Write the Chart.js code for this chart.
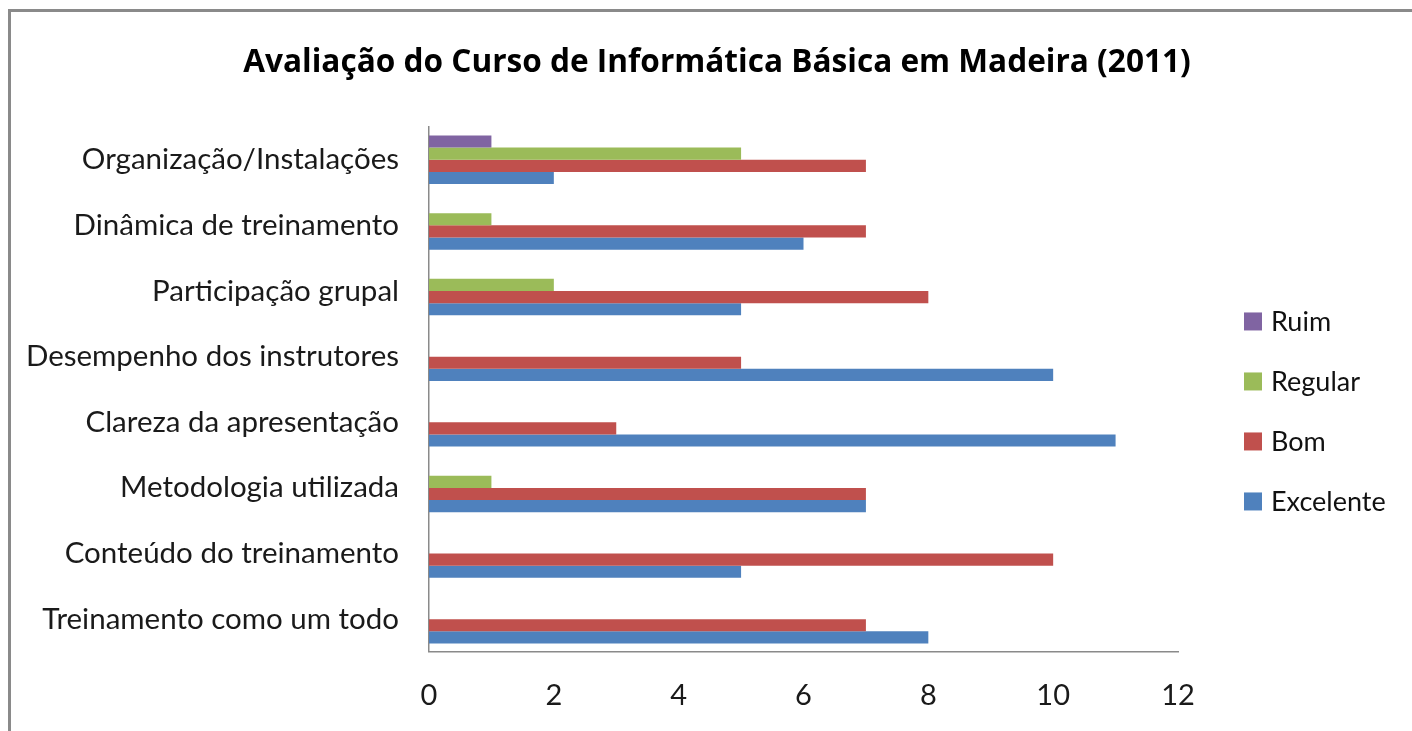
<!DOCTYPE html>
<html>
<head>
<meta charset="utf-8">
<script src="https://cdn.jsdelivr.net/npm/chart.js@4.4.0/dist/chart.umd.min.js"></script>
<style>
html, body { margin: 0; padding: 0; background: #fff; overflow: hidden; }
#wrap { position: relative; width: 1412px; height: 731px; overflow: hidden; }
.edge { position: absolute; background: #8a8a8a; pointer-events: none; }
#edgeTop { left: 8px; top: 9px; width: 1404px; height: 3px; }
#edgeLeft { left: 8px; top: 9px; width: 3px; height: 722px; }
</style>
</head>
<body>
<div id="wrap">
    <canvas id="chart" width="1412" height="731"></canvas>
    <div class="edge" id="edgeTop"></div>
    <div class="edge" id="edgeLeft"></div>
</div>
<script>
const categories = [
    "Organização/Instalações",
    "Dinâmica de treinamento",
    "Participação grupal",
    "Desempenho dos instrutores",
    "Clareza da apresentação",
    "Metodologia utilizada",
    "Conteúdo do treinamento",
    "Treinamento como um todo"
];

const ruim      = [1, 0, 0, 0, 0, 0, 0, 0];
const regular   = [5, 1, 2, 0, 0, 1, 0, 0];
const bom       = [7, 7, 8, 5, 3, 7, 10, 7];
const excelente = [2, 6, 5, 10, 11, 7, 5, 8];

const seriesNames  = ["Ruim", "Regular", "Bom", "Excelente"];
const seriesColors = ["#8064A2", "#9BBB59", "#C0504D", "#4F81BD"];
const xTicks = [0, 2, 4, 6, 8, 10, 12];

const FONT = "Lato";
Chart.defaults.font.family = FONT;

// legend drawn by hand so it sits where the Excel one does
const sideLegend = {
    id: "sideLegend",
    afterDraw(chart){
        const ctx = chart.ctx;
        const area = chart.chartArea;
        const mid = (area.top + area.bottom) / 2 + 22;
        const x = area.right + 66;
        ctx.save();
        ctx.font = "27px " + FONT;
        ctx.textBaseline = "middle";
        ctx.textAlign = "left";
        chart.data.datasets.forEach((ds, i) => {
            const y = mid + (i - 1.5) * 60;
            ctx.fillStyle = ds.backgroundColor;
            ctx.fillRect(x, y - 9, 18, 18);
            ctx.fillStyle = "#111";
            ctx.fillText(ds.label, x + 27, y + 1);
        });
        ctx.restore();
    }
};

const seriesData = [ruim, regular, bom, excelente];

new Chart(document.getElementById("chart"), {
    type: "bar",
    data: {
        labels: categories,
        datasets: seriesNames.map((name, i) => ({
            label: name,
            data: seriesData[i],
            backgroundColor: seriesColors[i],
            borderWidth: 0,
            categoryPercentage: 0.74,
            barPercentage: 1.0
        }))
    },
    options: {
        indexAxis: "y",
        responsive: false,
        animation: false,
        layout: { padding: { left: 22, right: 0, top: 0, bottom: 0 } },
        plugins: {
            legend: { display: false },
            tooltip: { enabled: false },
            title: {
                display: true,
                text: "Avaliação do Curso de Informática Básica em Madeira (2011)",
                color: "#000",
                font: { family: "Open Sans", size: 31.6, weight: "bold" },
                padding: { top: 44, bottom: 45 }
            }
        },
        scales: {
            x: {
                type: "linear",
                min: 0,
                max: 12,
                afterBuildTicks: s => { s.ticks = xTicks.map(v => ({ value: v })); },
                grid: { display: false, drawTicks: false },
                border: { display: true, color: "#8a8a8a", width: 1.5 },
                ticks: { color: "#1a1a1a", font: { size: 29 }, padding: 26 },
                afterFit: s => { s.height = 79; }
            },
            y: {
                type: "category",
                grid: { display: false, drawTicks: false },
                border: { display: true, color: "#8a8a8a", width: 1.5 },
                ticks: { color: "#1a1a1a", font: { size: 29.5 }, padding: 30 },
                afterFit: s => { s.width = 407; }
            },
            spacer: {
                type: "linear",
                position: "right",
                grid: { display: false, drawTicks: false },
                border: { display: false },
                ticks: { display: false },
                afterFit: s => { s.width = 234; }
            }
        }
    },
    plugins: [sideLegend]
});
</script>
</body>
</html>
